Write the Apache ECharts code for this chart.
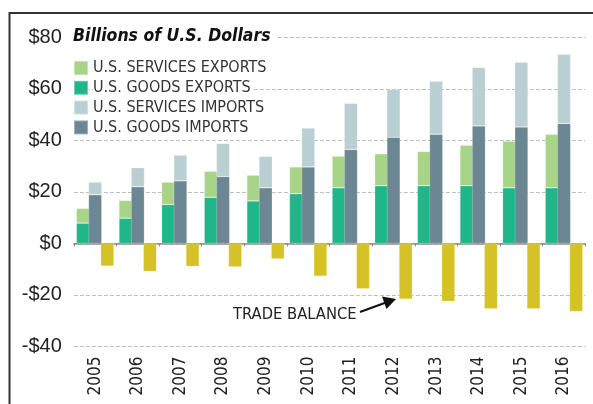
<!DOCTYPE html>
<html>
<head>
<meta charset="utf-8">
<script src="https://cdn.jsdelivr.net/npm/echarts@6/dist/echarts.min.js"></script>
<style>
  html, body { margin: 0; padding: 0; background: #fff; }
  #chart { width: 593px; height: 404px; }
</style>
</head>
<body>
<div id="chart"></div>
<script>
// 数据 (十亿美元)
var years = ['2005', '2006', '2007', '2008', '2009', '2010', '2011', '2012', '2013', '2014', '2015', '2016'];
var goodsExports = [7.9, 9.8, 15.1, 17.9, 16.5, 19.3, 21.6, 22.4, 22.4, 22.4, 21.6, 21.6];
var servicesExports = [5.7, 6.9, 8.7, 10.1, 10.0, 10.4, 12.3, 12.4, 13.3, 15.7, 18.1, 20.8];
var goodsImports = [18.9, 22.0, 24.3, 26.0, 21.6, 29.7, 36.5, 41.2, 42.4, 45.6, 45.2, 46.6];
var servicesImports = [4.9, 7.4, 10.0, 12.8, 12.2, 15.1, 17.9, 18.6, 20.6, 22.7, 25.1, 26.8];
var tradeBalance = [-8.8, -10.9, -8.9, -9.1, -6.0, -12.7, -17.6, -21.6, -22.5, -25.4, -25.4, -26.4];
var yTicks = [-40, -20, 0, 20, 40, 60, 80];

var NARROW = '"Liberation Sans Narrow", "DejaVu Sans Condensed", "Liberation Sans", sans-serif';
var BAR_W = 13.3;

var chart = echarts.init(document.getElementById('chart'));

function barSeries(name, stack, data, color) {
    return {
        name: name,
        type: 'bar',
        stack: stack,
        data: data,
        barWidth: BAR_W,
        barGap: '-8.6%',
        itemStyle: { color: color, borderColor: 'rgba(255,255,255,0.35)', borderWidth: 0.6 }
    };
}

var option = {
    animation: false,
    backgroundColor: '#fff',
    textStyle: { fontFamily: NARROW },
    title: {
        text: 'Billions of U.S. Dollars',
        left: 73,
        top: 26,
        padding: [1, 7, 1, 0],
        backgroundColor: '#fff',
        textStyle: { fontFamily: NARROW, fontSize: 17.5, fontWeight: 'bold', fontStyle: 'italic', color: '#111' }
    },
    legend: {
        orient: 'vertical',
        left: 73,
        top: 60,
        padding: 0,
        itemWidth: 14,
        itemHeight: 14,
        itemGap: 3.8,
        icon: 'rect',
        selectedMode: false,
        data: ['U.S. SERVICES EXPORTS', 'U.S. GOODS EXPORTS', 'U.S. SERVICES IMPORTS', 'U.S. GOODS IMPORTS'],
        textStyle: { fontFamily: NARROW, fontSize: 16, color: '#333', backgroundColor: '#fff', padding: [0, 2, 0, 0] }
    },
    grid: { left: 73.84, right: 7.7, top: 37.3, bottom: 57.5, containLabel: false },
    xAxis: [{
        type: 'category',
        data: years,
        position: 'bottom',
        axisLine: { onZero: true, lineStyle: { color: '#8a8a8a', width: 1.5 } },
        axisTick: { show: true, length: 3, lineStyle: { color: '#8a8a8a' } },
        axisLabel: { show: false }
    }, {
        type: 'category',
        data: years,
        position: 'bottom',
        axisLine: { show: false, onZero: false },
        axisTick: { show: false },
        axisLabel: { rotate: 90, margin: 10, fontFamily: NARROW, fontSize: 17, color: '#222' }
    }],
    yAxis: {
        type: 'value',
        min: yTicks[0],
        max: yTicks[yTicks.length - 1],
        interval: 20,
        axisLine: { show: false },
        axisTick: { show: false },
        axisLabel: {
            margin: 12,
            fontFamily: '"Liberation Sans", sans-serif',
            fontSize: 20,
            color: '#222',
            formatter: function (v) { return v < 0 ? '-$' + Math.abs(v) : '$' + v; }
        },
        splitLine: { lineStyle: { color: '#bdbdbd', width: 1, type: [4, 2] } }
    },
    series: [
        barSeries('U.S. GOODS EXPORTS', 'exp', goodsExports, '#20b68a'),
        barSeries('U.S. SERVICES EXPORTS', 'exp', servicesExports, '#a7d487'),
        barSeries('U.S. GOODS IMPORTS', 'imp', goodsImports, '#6c8793'),
        barSeries('U.S. SERVICES IMPORTS', 'imp', servicesImports, '#b9cfd1'),
        barSeries('TRADE BALANCE', 'bal', tradeBalance, '#d5c226')
    ],
    graphic: [
        // 外框
        { type: 'polyline', silent: true, shape: { points: [[9.5, 404], [9.5, 13], [593, 13]] },
          style: { stroke: '#333', lineWidth: 2, fill: null } },
        // 注释
        { type: 'text', silent: true, style: { text: 'TRADE BALANCE', x: 233, y: 315, verticalAlign: 'middle',
          font: '16.4px ' + NARROW, fill: '#222' } },
        { type: 'line', silent: true, shape: { x1: 360, y1: 312, x2: 386, y2: 302.5 },
          style: { stroke: '#111', lineWidth: 2 } },
        { type: 'polygon', silent: true, shape: { points: [[396, 299], [382, 296.5], [386.5, 309]] },
          style: { fill: '#111' } }
    ]
};

chart.setOption(option);
</script>
</body>
</html>
